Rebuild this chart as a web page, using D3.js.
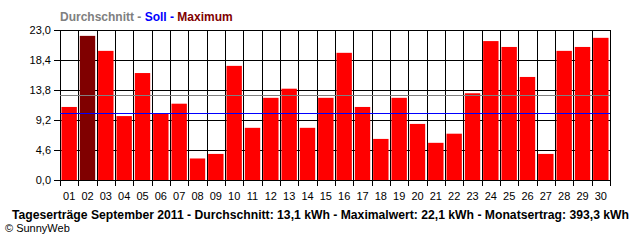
<!DOCTYPE html>
<html>
<head>
<meta charset="utf-8">
<script src="https://cdn.jsdelivr.net/npm/d3@7"></script>
<style>
  body { margin: 0; background: #fff; }
  svg { display: block; font-family: "Liberation Sans", Arial, sans-serif; }
</style>
</head>
<body>
<div class="chart"></div>
<script>
// daily yields, September 2011 (kWh)
const days = d3.range(1, 31).map(d => (d < 10 ? "0" : "") + d);
const yields = [11.2, 22.1, 19.8, 9.8, 16.4, 10.2, 11.7, 3.3, 4.0, 17.5,
                8.0, 12.6, 14.0, 8.0, 12.6, 19.5, 11.2, 6.3, 12.6, 8.6,
                5.7, 7.1, 13.3, 21.3, 20.4, 15.8, 4.0, 19.8, 20.4, 21.8];
const yTicks = [0, 4.6, 9.2, 13.8, 18.4, 23.0];
const average = 13.1;
const target = 10.3;
const maxDay = "02";

const width = 640, height = 240;
const plotLeft = 60, plotRight = 610, plotTop = 30, plotBottom = 180;

const svg = d3.select(".chart").append("svg")
    .attr("width", width)
    .attr("height", height);

const x = d3.scaleBand().domain(days).range([plotLeft, plotRight])
    .paddingInner(0.16).paddingOuter(0.08);
const y = d3.scaleLinear().domain([0, 23]).range([plotBottom, plotTop]);

const comma = d => d3.format(".1f")(d).replace(".", ",");

// horizontal grid + y axis
svg.append("g")
    .attr("transform", "translate(" + plotLeft + ",0)")
    .call(d3.axisLeft(y).tickValues(yTicks).tickSize(6).tickFormat(comma))
    .call(g => g.select(".domain").remove())
    .call(g => g.selectAll(".tick line").attr("stroke", "#000"))
    .call(g => g.selectAll("text").attr("font-size", 11).attr("fill", "#000")
        .attr("font-family", "Liberation Sans, Arial, sans-serif").attr("x", -9))
    .call(g => g.selectAll(".tick").append("line")
        .attr("x2", plotRight - plotLeft).attr("stroke", "#000"));

// vertical grid at category boundaries
const step = (plotRight - plotLeft) / days.length;
svg.append("g").selectAll("line")
    .data(d3.range(days.length + 1))
    .join("line")
    .attr("x1", i => Math.round(plotLeft + i * step) + 0.5)
    .attr("x2", i => Math.round(plotLeft + i * step) + 0.5)
    .attr("y1", plotTop)
    .attr("y2", plotBottom + 6)
    .attr("stroke", "#000");

// bars
svg.append("g").selectAll("rect")
    .data(yields)
    .join("rect")
    .attr("x", (d, i) => x(days[i]))
    .attr("width", x.bandwidth())
    .attr("y", d => y(d))
    .attr("height", d => y(0) - y(d))
    .attr("fill", (d, i) => days[i] === maxDay ? "#800000" : "#ff0000");

// frame
svg.append("rect")
    .attr("x", plotLeft + 0.5).attr("y", plotTop + 0.5)
    .attr("width", plotRight - plotLeft).attr("height", plotBottom - plotTop)
    .attr("fill", "none").attr("stroke", "#000");

// average and target lines
svg.append("line")
    .attr("x1", plotLeft).attr("x2", plotRight)
    .attr("y1", Math.round(y(average)) + 0.5).attr("y2", Math.round(y(average)) + 0.5)
    .attr("stroke", "#808080").attr("stroke-width", 1.2);
svg.append("line")
    .attr("x1", plotLeft).attr("x2", plotRight)
    .attr("y1", Math.round(y(target)) + 0.5).attr("y2", Math.round(y(target)) + 0.5)
    .attr("stroke", "#0000ff").attr("stroke-width", 1.2);

// x labels
svg.append("g").selectAll("text")
    .data(days)
    .join("text")
    .attr("x", d => x(d) + x.bandwidth() / 2)
    .attr("y", 200)
    .attr("text-anchor", "middle")
    .attr("font-size", 11)
    .text(d => d);

// legend
const legend = svg.append("text")
    .attr("x", 60).attr("y", 21)
    .attr("font-size", 12).attr("font-weight", "bold");
legend.append("tspan").attr("fill", "#808080").text("Durchschnitt - ");
legend.append("tspan").attr("fill", "#0000ff").text("Soll - ");
legend.append("tspan").attr("fill", "#800000").text("Maximum");

// caption
svg.append("text")
    .attr("x", 12).attr("y", 219)
    .attr("font-size", 12).attr("font-weight", "bold")
    .attr("textLength", 617).attr("lengthAdjust", "spacingAndGlyphs")
    .text("Tageserträge September 2011 - Durchschnitt: " + comma(average) +
          " kWh - Maximalwert: " + comma(d3.max(yields)) +
          " kWh - Monatsertrag: 393,3 kWh");

svg.append("text")
    .attr("x", 5).attr("y", 232)
    .attr("font-size", 11)
    .text("© SunnyWeb");
</script>
</body>
</html>
